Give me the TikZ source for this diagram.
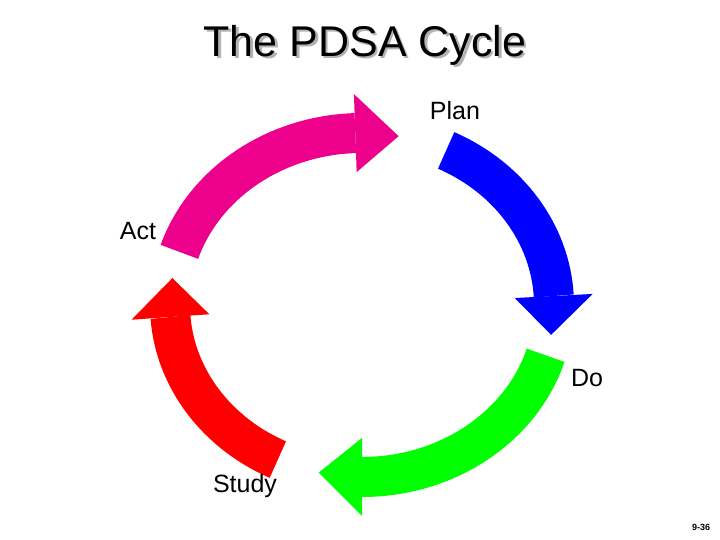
\documentclass[tikz,border=0pt]{standalone}
\usepackage{fontspec}
\setmainfont{Liberation Sans}
\newcommand\arcarrow[4]{%
  \pgfmathsetmacro\myle{#3+13}%
  \draw[#1,line width=40pt] (c) ++(#2:192 and 172) arc[start angle=#2,end angle=\myle,x radius=192,y radius=172];
  \path (c) ++(\myle:231 and 211) coordinate (#4a);
  \path (c) ++(\myle:153 and 133) coordinate (#4b);
  \path (c) ++(#3:192 and 172) coordinate (#4t);
  \fill[#1] (#4a) -- (#4t) -- (#4b) -- cycle;}
\begin{document}
\begin{tikzpicture}[x=1pt,y=1pt,
  lbl/.style={font=\fontsize{25}{28}\selectfont,inner sep=0pt}]
\useasboundingbox (0,0) rectangle (720,540);
\coordinate (c) at (362,235);
\arcarrow{magenta}{162}{79}{m}
\arcarrow{blue}{64}{-10}{b}
\arcarrow{green}{-17}{-103}{g}
\arcarrow{red}{-116}{-189}{r}
\node[font=\fontsize{43}{48}\selectfont,text=gray!60] (ts) at (367.5,492.5) {The PDSA Cycle};
\node[font=\fontsize{43}{48}\selectfont] (t) at (365,495) {The PDSA Cycle};
\node[lbl] (plan) at (455,429) {Plan};
\node[lbl] (act) at (138,309) {Act};
\node[lbl] (do) at (587,162) {Do};
\node[lbl] (study) at (245,54) {Study};
\node[font=\fontsize{9}{11}\selectfont\bfseries] (pg) at (701,13) {9-36};
\end{tikzpicture}
\end{document}
